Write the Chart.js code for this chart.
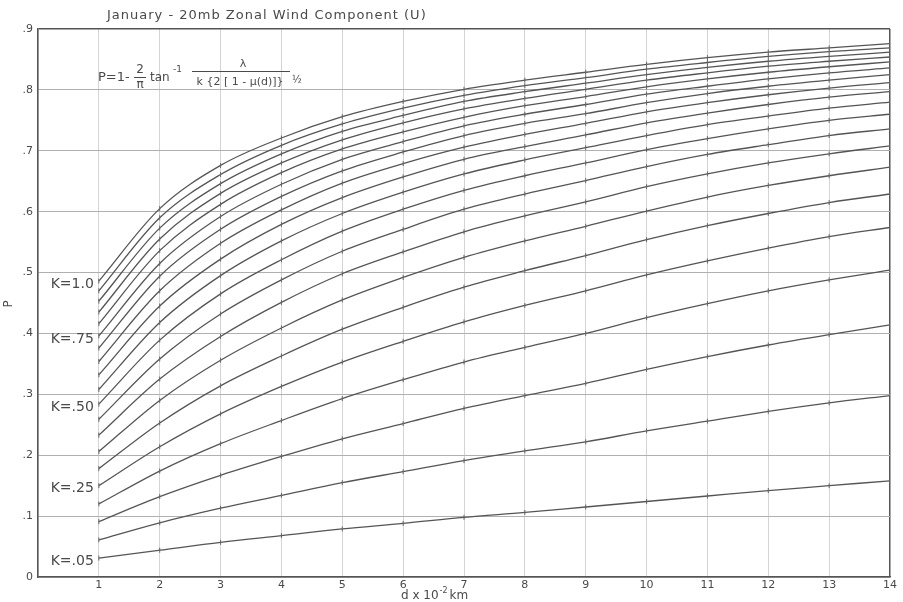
<!DOCTYPE html>
<html>
<head>
<meta charset="utf-8">
<script src="https://cdn.jsdelivr.net/npm/chart.js@4.4.1/dist/chart.umd.min.js"></script>
<style>
  body { margin: 0; background: #fff; }
  canvas { display: block; }
</style>
</head>
<body>
<canvas id="chart" width="903" height="602"></canvas>
<script>
const chartTitle = "January - 20mb Zonal Wind Component (U)";

// d (x 10^-2 km), curves are read at each whole d
const dKm = [1, 2, 3, 4, 5, 6, 7, 8, 9, 10, 11, 12, 13, 14];
const kValues = [0.05, 0.10, 0.15, 0.20, 0.25, 0.30, 0.35, 0.40, 0.45, 0.50,
                 0.55, 0.60, 0.65, 0.70, 0.75, 0.80, 0.85, 0.90, 0.95, 1.00];

// P for each K
const p05  = [.031, .044, .057, .068, .079, .088, .098, .106, .115, .124, .133, .142, .150, .158];
const p10  = [.061, .089, .113, .134, .155, .173, .191, .207, .222, .240, .256, .272, .286, .298];
const p15  = [.091, .132, .167, .198, .227, .252, .277, .298, .318, .341, .362, .381, .398, .414];
const p20  = [.120, .174, .219, .257, .293, .324, .353, .377, .400, .426, .449, .470, .488, .504];
const p25  = [.150, .214, .268, .313, .353, .387, .419, .446, .470, .496, .519, .540, .559, .574];
const p30  = [.178, .253, .314, .363, .407, .443, .476, .503, .528, .554, .577, .597, .615, .629];
const p35  = [.206, .290, .356, .409, .455, .492, .525, .552, .576, .601, .624, .643, .659, .673];
const p40  = [.233, .325, .395, .451, .498, .534, .567, .593, .616, .641, .662, .680, .695, .708];
const p45  = [.259, .358, .432, .488, .535, .571, .604, .629, .651, .674, .694, .710, .725, .736];
const p50  = [.284, .389, .465, .521, .568, .604, .635, .659, .680, .702, .720, .736, .750, .760];
const p55  = [.308, .418, .495, .552, .597, .632, .662, .685, .705, .725, .743, .757, .770, .780];
const p60  = [.332, .445, .522, .579, .623, .657, .686, .707, .726, .746, .762, .776, .788, .797];
const p65  = [.354, .470, .548, .603, .647, .679, .706, .727, .745, .764, .779, .792, .803, .812];
const p70  = [.376, .494, .571, .625, .667, .698, .725, .745, .761, .779, .794, .806, .816, .825];
const p75  = [.396, .515, .592, .645, .686, .715, .741, .760, .776, .793, .806, .818, .828, .836];
const p80  = [.416, .536, .612, .664, .703, .731, .755, .774, .789, .805, .818, .829, .838, .846];
const p85  = [.435, .555, .630, .680, .718, .746, .769, .786, .801, .816, .828, .839, .847, .854];
const p90  = [.453, .573, .646, .695, .732, .758, .781, .797, .811, .825, .837, .847, .855, .862];
const p95  = [.470, .590, .661, .709, .744, .770, .791, .807, .820, .834, .845, .855, .863, .869];
const p100 = [.486, .605, .676, .721, .756, .781, .801, .816, .829, .842, .853, .862, .869, .876];

const curves = [p05, p10, p15, p20, p25, p30, p35, p40, p45, p50,
                p55, p60, p65, p70, p75, p80, p85, p90, p95, p100];

// which curves carry a "K=" label at their left end
const labeledK = [1.00, 0.75, 0.50, 0.25, 0.05];
const labeledKText = ["K=1.0", "K=.75", "K=.50", "K=.25", "K=.05"];

const ink = "#4a4a4a";
const fontFam = '"DejaVu Sans", "Liberation Sans", sans-serif';

const datasets = curves.map((vals, i) => ({
  label: "K=" + kValues[i].toFixed(2),
  data: dKm.map((d, j) => ({ x: d, y: vals[j] })),
  borderColor: "#555",
  borderWidth: 1.3,
  cubicInterpolationMode: "monotone",
  pointStyle: "line",
  rotation: 90,
  pointRadius: 2.5,
  pointBorderWidth: 1,
  pointBorderColor: "#666",
  pointHoverRadius: 0,
  fill: false
}));

const textPlugin = {
  id: "textPlugin",
  afterDraw(chart) {
    const { ctx } = chart;
    const x = chart.scales.x;
    const y = chart.scales.y;
    ctx.save();
    ctx.fillStyle = ink;
    ctx.strokeStyle = ink;
    ctx.textBaseline = "middle";

    // title
    ctx.font = "13px " + fontFam;
    ctx.textAlign = "left";
    ctx.letterSpacing = "1px";
    ctx.fillText(chartTitle, 107, 16);
    ctx.letterSpacing = "0px";

    // K labels at the start of the curves
    ctx.font = "14px " + fontFam;
    ctx.textAlign = "right";
    labeledK.forEach((k, n) => {
      const i = kValues.indexOf(k);
      ctx.fillText(labeledKText[n], x.getPixelForValue(1) - 5, y.getPixelForValue(curves[i][0]) + 3);
    });

    // formula
    ctx.textAlign = "left";
    ctx.font = "13px " + fontFam;
    ctx.fillText("P=1-", 98, 78);
    ctx.font = "12px " + fontFam;
    ctx.textAlign = "center";
    ctx.fillText("2", 140, 70);
    ctx.fillText("\u03c0", 140, 85);
    ctx.beginPath(); ctx.moveTo(134, 77.5); ctx.lineTo(146, 77.5); ctx.lineWidth = 1; ctx.stroke();
    ctx.textAlign = "left";
    ctx.fillText("tan", 150, 78);
    ctx.font = "9px " + fontFam;
    ctx.fillText("-1", 173, 70);
    ctx.font = "11px " + fontFam;
    ctx.textAlign = "center";
    ctx.fillText("\u03bb", 243, 64);
    ctx.beginPath(); ctx.moveTo(192, 71.5); ctx.lineTo(290, 71.5); ctx.stroke();
    ctx.fillText("k {2 [ 1 - \u03bc(d)]}", 240, 82);
    ctx.font = "10px " + fontFam;
    ctx.textAlign = "left";
    ctx.fillText("\u00bd", 292, 80);

    // x axis title
    ctx.font = "12px " + fontFam;
    ctx.textAlign = "left";
    ctx.fillText("d x 10", 401, 596);
    const w = ctx.measureText("d x 10").width;
    ctx.font = "8px " + fontFam;
    ctx.fillText("-2", 401 + w + 1, 591);
    ctx.font = "12px " + fontFam;
    ctx.fillText("km", 401 + w + 11, 596);

    // y axis title
    ctx.translate(9, 304);
    ctx.rotate(-Math.PI / 2);
    ctx.textAlign = "center";
    ctx.font = "12px " + fontFam;
    ctx.fillText("P", 0, 0);
    ctx.restore();
  }
};

new Chart(document.getElementById("chart"), {
  type: "line",
  data: { datasets },
  options: {
    responsive: false,
    animation: false,
    events: [],
    layout: { padding: { top: 29, right: 13, left: 0, bottom: 0 } },
    plugins: { legend: { display: false }, title: { display: false }, tooltip: { enabled: false } },
    scales: {
      x: {
        type: "linear",
        min: 0,
        max: 14,
        afterFit(scale) { scale.height = 25; },
        ticks: {
          stepSize: 1,
          autoSkip: false,
          maxRotation: 0,
          padding: 2,
          color: ink,
          font: { family: fontFam, size: 11 },
          callback: v => (v === 0 ? "" : String(v))
        },
        grid: {
          drawTicks: false,
          color: c => (c.tick && c.tick.value === 14 ? "#555" : "#d4d4d4"),
          lineWidth: c => (c.tick && c.tick.value === 14 ? 1.5 : 1)
        },
        border: { color: "#555", width: 1.5 }
      },
      y: {
        min: 0,
        max: 0.9,
        afterFit(scale) { scale.width = 38; },
        ticks: {
          stepSize: 0.1,
          padding: 5,
          color: ink,
          font: { family: fontFam, size: 11 },
          callback: v => (v === 0 ? "0" : "." + Math.round(v * 10))
        },
        grid: {
          drawTicks: false,
          color: c => (c.tick && Math.abs(c.tick.value - 0.9) < 1e-6 ? "#555" : "#b0b0b0"),
          lineWidth: c => (c.tick && Math.abs(c.tick.value - 0.9) < 1e-6 ? 1.5 : 1)
        },
        border: { color: "#555", width: 1.5 }
      }
    }
  },
  plugins: [textPlugin]
});
</script>
</body>
</html>
